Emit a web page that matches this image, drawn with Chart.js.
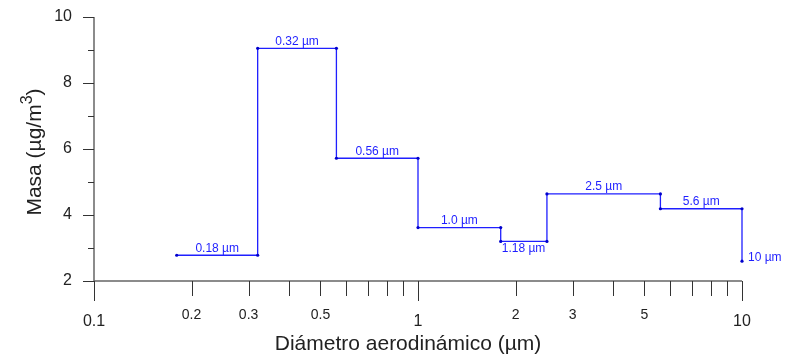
<!DOCTYPE html>
<html>
<head>
<meta charset="utf-8">
<script src="https://cdn.jsdelivr.net/npm/chart.js@4/dist/chart.umd.min.js"></script>
<style>
  html, body { margin: 0; padding: 0; background: #fff; }
  canvas { display: block; }
</style>
</head>
<body>
<canvas id="chart" width="792" height="355"></canvas>
<script>
// Cut diameters (µm) of each impactor stage and the mass collected on it
const cutDiameters = [0.18, 0.32, 0.56, 1.0, 1.8, 2.5, 5.6, 10];
const stageMass = [2.78, 9.05, 5.72, 3.62, 3.2, 4.64, 4.19, 2.6];
const stageLabels = ["0.18 µm", "0.32 µm", "0.56 µm", "1.0 µm", "1.18 µm", "2.5 µm", "5.6 µm", "10 µm"];

// Axis ticks
const xMajorTicks = [0.1, 1, 10];
const xMinorTicks = [0.2, 0.3, 0.4, 0.5, 0.6, 0.7, 0.8, 0.9, 2, 3, 4, 5, 6, 7, 8, 9];
const xMinorLabels = ["0.2", "0.3", "0.5", "2", "3", "5"];
const yMajorTicks = [2, 4, 6, 8, 10];
const yMinorTicks = [3, 5, 7, 9];

const BLUE = "#1f1fff";
const AXIS = "#666";
const FONT = "'Liberation Sans', Arial, sans-serif";

// Step outline: every stage is a flat segment from its cut size to the next one
const steps = [];
for (let i = 0; i < cutDiameters.length; i++) {
  if (i > 0) steps.push({ x: cutDiameters[i], y: stageMass[i - 1] });
  steps.push({ x: cutDiameters[i], y: stageMass[i] });
}

const axesPlugin = {
  id: "axes",
  afterDraw(chart) {
    const ctx = chart.ctx;
    const xs = chart.scales.x;
    const ys = chart.scales.y;
    const x0 = xs.getPixelForValue(0.1);
    const y0 = ys.getPixelForValue(2);

    ctx.save();
    // axis lines
    ctx.strokeStyle = AXIS;
    ctx.lineWidth = 1.5;
    ctx.beginPath();
    ctx.moveTo(x0, ys.getPixelForValue(10));
    ctx.lineTo(x0, y0);
    ctx.lineTo(xs.getPixelForValue(10), y0);
    ctx.stroke();

    ctx.strokeStyle = "#333";
    ctx.lineWidth = 1;
    ctx.beginPath();
    xMajorTicks.forEach(v => {
      const px = Math.round(xs.getPixelForValue(v)) + 0.5;
      ctx.moveTo(px, y0);
      ctx.lineTo(px, y0 + 20);
    });
    xMinorTicks.forEach(v => {
      const px = Math.round(xs.getPixelForValue(v)) + 0.5;
      ctx.moveTo(px, y0);
      ctx.lineTo(px, y0 + 15);
    });
    yMajorTicks.forEach(v => {
      const py = Math.round(ys.getPixelForValue(v)) + 0.5;
      ctx.moveTo(x0, py);
      ctx.lineTo(x0 - 11, py);
    });
    yMinorTicks.forEach(v => {
      const py = Math.round(ys.getPixelForValue(v)) + 0.5;
      ctx.moveTo(x0, py);
      ctx.lineTo(x0 - 6, py);
    });
    ctx.stroke();

    // tick labels
    ctx.fillStyle = "#222";
    ctx.textAlign = "center";
    ctx.textBaseline = "middle";
    ctx.font = "16px " + FONT;
    xMajorTicks.forEach(v => ctx.fillText(String(v), xs.getPixelForValue(v), y0 + 41));
    ctx.font = "14px " + FONT;
    xMinorLabels.forEach(t => ctx.fillText(t, xs.getPixelForValue(parseFloat(t)), y0 + 34));
    ctx.textAlign = "right";
    ctx.font = "16px " + FONT;
    yMajorTicks.forEach(v => ctx.fillText(String(v), x0 - 22, ys.getPixelForValue(v)));

    // axis titles
    ctx.font = "21px " + FONT;
    ctx.textAlign = "center";
    ctx.fillText("Diámetro aerodinámico (µm)", 408, 344);

    // y title with a raised "3"
    ctx.translate(35, 152);
    ctx.rotate(-Math.PI / 2);
    const head = "Masa (µg/m", sup = "3", tail = ")";
    ctx.font = "21px " + FONT;
    const wHead = ctx.measureText(head).width;
    const wTail = ctx.measureText(tail).width;
    ctx.font = "16px " + FONT;
    const wSup = ctx.measureText(sup).width;
    let sx = -(wHead + wSup + wTail) / 2;
    ctx.textAlign = "left";
    ctx.font = "21px " + FONT;
    ctx.fillText(head, sx, 0);
    ctx.font = "16px " + FONT;
    ctx.fillText(sup, sx + wHead, -7);
    ctx.font = "21px " + FONT;
    ctx.fillText(tail, sx + wHead + wSup, 0);
    ctx.restore();

    // stage labels
    ctx.save();
    ctx.fillStyle = BLUE;
    ctx.font = "12px " + FONT;
    ctx.textBaseline = "middle";
    stageLabels.forEach((t, i) => {
      const py = ys.getPixelForValue(stageMass[i]);
      if (i === cutDiameters.length - 1) {
        ctx.textAlign = "left";
        ctx.fillText(t, xs.getPixelForValue(cutDiameters[i]) + 6, py - 4);
      } else if (i === 4) {
        ctx.textAlign = "left";
        ctx.fillText(t, xs.getPixelForValue(cutDiameters[i]) + 1, py + 7);
      } else {
        const mid = Math.sqrt(cutDiameters[i] * cutDiameters[i + 1]);
        ctx.textAlign = "center";
        ctx.fillText(t, xs.getPixelForValue(mid), py - 7);
      }
    });
    ctx.restore();
  }
};

new Chart(document.getElementById("chart"), {
  type: "line",
  data: {
    datasets: [{
      data: steps,
      borderColor: BLUE,
      borderWidth: 1.3,
      pointRadius: 1.6,
      pointBackgroundColor: "#0000cc",
      pointBorderWidth: 0,
      tension: 0,
      clip: false
    }]
  },
  options: {
    responsive: false,
    animation: false,
    devicePixelRatio: 1,
    layout: { padding: { left: 94, right: 50, top: 17, bottom: 74 } },
    plugins: { legend: { display: false }, tooltip: { enabled: false } },
    scales: {
      x: {
        type: "logarithmic",
        min: 0.1,
        max: 10,
        grid: { display: false, drawTicks: false },
        border: { display: false },
        ticks: { display: false }
      },
      y: {
        min: 2,
        max: 10,
        grid: { display: false, drawTicks: false },
        border: { display: false },
        ticks: { display: false }
      }
    }
  },
  plugins: [axesPlugin]
});
</script>
</body>
</html>
